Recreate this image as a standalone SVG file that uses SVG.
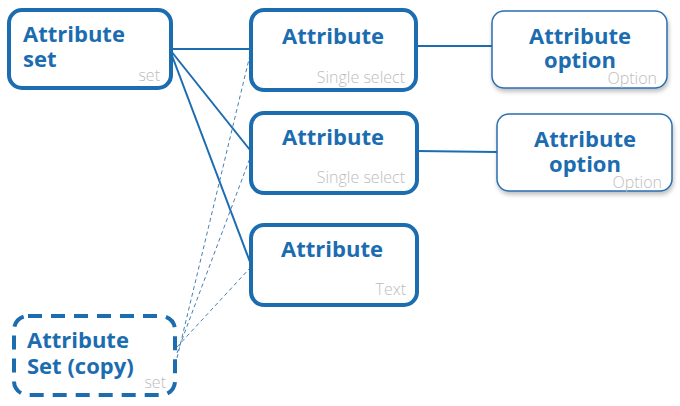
<svg xmlns="http://www.w3.org/2000/svg" width="680" height="406" viewBox="0 0 680 406">
<defs>
<style>
.main{fill:#fff;stroke:#1c6cb0;stroke-width:4}
.copy{fill:#fff;stroke:#1c6cb0;stroke-width:4;stroke-dasharray:14 9}
.opt{fill:#fff;stroke:#2a6fae;stroke-width:1.5}
.t{font-family:"Open Sans","Liberation Sans",sans-serif;font-weight:700;font-size:22px;fill:#1c6cb0}
.s{font-family:"Open Sans","Liberation Sans",sans-serif;font-weight:300;font-size:16px;fill:#bdbdbd}
.ln{stroke:#1c6cb0;stroke-width:2;fill:none}
.dl{stroke:#4a7fb3;stroke-width:1;stroke-dasharray:4 3;fill:none}
</style>
<filter id="sh" x="-10%" y="-10%" width="120%" height="130%">
<feDropShadow dx="1" dy="3" stdDeviation="2" flood-color="#000" flood-opacity="0.25"/>
</filter>
</defs>
<g id="connectors">
<line class="ln" x1="171" y1="49" x2="250" y2="49"/>
<line class="ln" x1="171" y1="51" x2="250" y2="150"/>
<line class="ln" x1="171" y1="53" x2="250" y2="262"/>
<line class="ln" x1="416" y1="46" x2="492" y2="46"/>
<line class="ln" x1="417" y1="151" x2="497" y2="152"/>
<line class="dl" x1="177" y1="358" x2="250" y2="55"/>
<line class="dl" x1="177" y1="353" x2="250" y2="158"/>
<line class="dl" x1="177" y1="347" x2="250" y2="268"/>
</g>
<g id="attribute-set">
<rect class="main" x="9" y="10" width="162" height="78" rx="13"/>
<text class="t" x="23" y="42">Attribute</text>
<text class="t" x="23" y="67">set</text>
<text class="s" x="160" y="81" text-anchor="end">set</text>
</g>
<g id="attribute-1">
<rect class="main" x="251" y="10" width="165" height="80" rx="13"/>
<text class="t" x="333" y="44" text-anchor="middle">Attribute</text>
<text class="s" x="405" y="83" text-anchor="end">Single select</text>
</g>
<g id="option-1">
<rect class="opt" x="492" y="11" width="175" height="77" rx="12" filter="url(#sh)"/>
<text class="t" x="580" y="44" text-anchor="middle">Attribute</text>
<text class="t" x="580" y="68" text-anchor="middle">option</text>
<text class="s" x="657" y="84" text-anchor="end">Option</text>
</g>
<g id="attribute-2">
<rect class="main" x="251" y="113" width="166" height="80" rx="13"/>
<text class="t" x="333" y="145" text-anchor="middle">Attribute</text>
<text class="s" x="405" y="183" text-anchor="end">Single select</text>
</g>
<g id="option-2">
<rect class="opt" x="497" y="114" width="175" height="77" rx="12" filter="url(#sh)"/>
<text class="t" x="585" y="147" text-anchor="middle">Attribute</text>
<text class="t" x="585" y="172" text-anchor="middle">option</text>
<text class="s" x="662" y="188" text-anchor="end">Option</text>
</g>
<g id="attribute-3">
<rect class="main" x="251" y="225" width="166" height="80" rx="13"/>
<text class="t" x="332" y="257" text-anchor="middle">Attribute</text>
<text class="s" x="406" y="295" text-anchor="end">Text</text>
</g>
<g id="attribute-set-copy">
<rect class="copy" x="14" y="316" width="161" height="79" rx="14"/>
<text class="t" x="27" y="348">Attribute</text>
<text class="t" x="27" y="374">Set (copy)</text>
<text class="s" x="166" y="388" text-anchor="end">set</text>
</g>
</svg>
